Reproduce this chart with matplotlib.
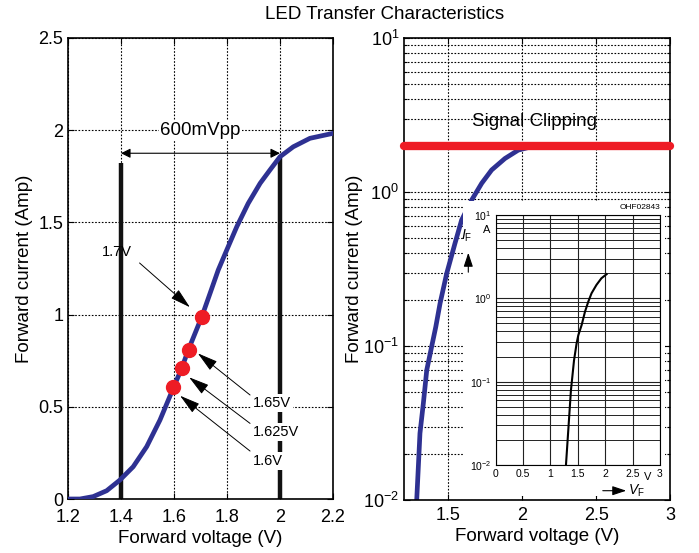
import matplotlib
matplotlib.use("Agg")
import matplotlib.pyplot as plt
from matplotlib.patches import Rectangle, FancyArrowPatch
from matplotlib.ticker import FuncFormatter, LogLocator, NullFormatter

plt.rcParams['font.family'] = ['Liberation Sans', 'DejaVu Sans']
plt.rcParams['mathtext.fontset'] = 'custom'
plt.rcParams['mathtext.rm'] = 'Liberation Sans'
plt.rcParams['mathtext.it'] = 'Liberation Sans:italic'

# left chart: linear I-V curve
lin_v = [1.195, 1.245, 1.295, 1.346, 1.396, 1.446, 1.497, 1.547, 1.597, 1.629, 1.654, 1.705,
         1.736, 1.767, 1.799, 1.837, 1.880, 1.925, 1.962, 2.0, 2.05, 2.113, 2.2]
lin_i = [0.0, 0.0, 0.013, 0.045, 0.103, 0.175, 0.284, 0.428, 0.600, 0.709, 0.808, 0.989,
         1.115, 1.242, 1.35, 1.477, 1.603, 1.712, 1.784, 1.856, 1.91, 1.956, 1.983]
dot_v = [1.597, 1.629, 1.657, 1.705]
dot_i = [0.606, 0.712, 0.808, 0.989]
dot_labels = ['1.6V', '1.625V', '1.65V', '1.7V']
swing_v = [1.4, 2.0]
swing_top = [1.82, 1.85]

# right chart: log I-V curve
log_v = [1.286, 1.297, 1.308, 1.331, 1.354, 1.387, 1.415, 1.444, 1.489, 1.545, 1.590, 1.658,
         1.726, 1.793, 1.883, 1.973, 2.064, 2.2]
log_i = [0.01, 0.0164, 0.0271, 0.0425, 0.0698, 0.099, 0.133, 0.189, 0.296, 0.464, 0.658, 0.887,
         1.14, 1.39, 1.65, 1.87, 1.97, 2.0]
clip_level = 2.0

# datasheet inset curve
ds_v = [1.283, 1.325, 1.374, 1.43, 1.478, 1.508, 1.57, 1.63, 1.69, 1.75, 1.84, 1.93, 2.025]
ds_i = [0.01, 0.026, 0.079, 0.18, 0.29, 0.36, 0.48, 0.69, 0.91, 1.15, 1.45, 1.74, 1.95]

blue = '#2e3192'
red = '#ee1c25'

fig = plt.figure(figsize=(6.99, 5.53), dpi=100)
fig.text(0.55, 0.973, 'LED Transfer Characteristics', ha='center', va='center', fontsize=13.5)

fmt = FuncFormatter(lambda v, p: '%g' % v)
grid_kw = dict(color='black', linestyle=(0, (1.5, 1.5)), linewidth=0.8)

# ---- left
ax1 = fig.add_axes([68/699, 54/553, 265/699, 461/553])
ax1.set_xlim(1.2, 2.2)
ax1.set_ylim(0, 2.5)
ax1.set_xticks([1.2, 1.4, 1.6, 1.8, 2.0, 2.2])
ax1.set_yticks([0, 0.5, 1, 1.5, 2, 2.5])
ax1.xaxis.set_major_formatter(fmt)
ax1.yaxis.set_major_formatter(fmt)
ax1.grid(True, **grid_kw)
ax1.set_axisbelow(True)
ax1.tick_params(direction='in', top=True, right=True, length=4, width=0.8, labelsize=13)
ax1.tick_params(axis='x', pad=7)
for s in ax1.spines.values():
    s.set_linewidth(1.2)

for v, t in zip(swing_v, swing_top):
    ax1.plot([v, v], [0, t], color='#111111', lw=3.2, solid_capstyle='butt', zorder=2)
ax1.plot(lin_v, lin_i, color=blue, lw=3.4, zorder=3, solid_joinstyle='round')
ax1.plot(dot_v, dot_i, 'o', color=red, ms=10, zorder=4)

ax1.annotate('', xy=(2.0, 1.875), xytext=(1.4, 1.875),
             arrowprops=dict(arrowstyle='<|-|>', color='black', lw=0.8, mutation_scale=14, shrinkA=0, shrinkB=0))
ax1.text(1.7, 2.0, '600mVpp', ha='center', va='center', fontsize=13.5,
         bbox=dict(fc='white', ec='none', pad=1))

arr = dict(arrowstyle='-|>,head_length=0.9,head_width=0.25', color='black', lw=0.7,
           mutation_scale=14, shrinkA=0, shrinkB=0)
ax1.annotate('', xy=(1.66, 1.04), xytext=(1.47, 1.28), arrowprops=arr)
ax1.text(1.385, 1.34, dot_labels[3], ha='center', va='center', fontsize=10.5)
label_y = [0.206, 0.363, 0.52]
tips = [(1.623, 0.56), (1.657, 0.66), (1.69, 0.79)]
tails = [(1.887, 0.26), (1.887, 0.41), (1.887, 0.564)]
for lab, ly, tip, tail in zip(dot_labels[:3], label_y, tips, tails):
    ax1.annotate('', xy=tip, xytext=tail, arrowprops=arr)
    ax1.text(1.898, ly, lab, ha='left', va='center', fontsize=10.5,
             bbox=dict(fc='white', ec='none', pad=1.5), zorder=5)

ax1.set_xlabel('Forward voltage (V)', fontsize=13.5, labelpad=3)
ax1.set_ylabel('Forward current (Amp)', fontsize=13.5, labelpad=4)

# ---- right
ax2 = fig.add_axes([404/699, 53/553, 266/699, 462/553])
ax2.set_yscale('log')
ax2.set_xlim(1.2, 3.0)
ax2.set_ylim(0.01, 10)
ax2.set_xticks([1.5, 2, 2.5, 3])
ax2.xaxis.set_major_formatter(fmt)
ax2.yaxis.set_major_locator(LogLocator(base=10))
ax2.yaxis.set_minor_locator(LogLocator(base=10, subs=range(2, 10)))
ax2.yaxis.set_minor_formatter(NullFormatter())
ax2.grid(True, which='major', **grid_kw)
ax2.grid(True, which='minor', axis='y', **grid_kw)
ax2.set_axisbelow(True)
ax2.tick_params(which='both', direction='in', top=True, right=True, width=0.8, labelsize=13)
ax2.tick_params(which='major', length=4)
ax2.tick_params(which='minor', length=2.5)
ax2.tick_params(axis='x', pad=5)
for s in ax2.spines.values():
    s.set_linewidth(1.2)

ax2.plot(log_v, log_i, color=blue, lw=3.4, zorder=2, solid_joinstyle='round')
ax2.plot([1.2, 3.0], [clip_level, clip_level], color=red, lw=6, solid_capstyle='round', zorder=4, clip_on=False)
ax2.text(2.086, 2.85, 'Signal Clipping', ha='center', va='center', fontsize=13.5)
ax2.add_patch(Rectangle((463/699, 57/553), 202/699, 295/553, transform=fig.transFigure,
                        fc='white', ec='none', zorder=3, clip_on=False))
ax2.set_xlabel('Forward voltage (V)', fontsize=13.5, labelpad=3)
ax2.set_ylabel('Forward current (Amp)', fontsize=13.5, labelpad=0)

# ---- datasheet inset
ax3 = fig.add_axes([495.7/699, 88/553, 164.3/699, 250/553])
ax3.set_yscale('log')
ax3.set_xlim(0, 3)
ax3.set_ylim(0.01, 10)
ax3.set_xticks([0, 0.5, 1, 1.5, 2, 2.5, 3])
ax3.xaxis.set_major_formatter(fmt)
ax3.yaxis.set_major_locator(LogLocator(base=10))
ax3.yaxis.set_minor_locator(LogLocator(base=10, subs=range(2, 10)))
ax3.yaxis.set_minor_formatter(NullFormatter())
ax3.grid(True, which='major', color='#222222', lw=0.8)
ax3.grid(True, which='minor', axis='y', color='#222222', lw=0.7)
ax3.tick_params(which='both', length=0, labelsize=7.5, pad=3)
for s in ax3.spines.values():
    s.set_linewidth(0.8)
ax3.plot(ds_v, ds_i, color='black', lw=1.5, solid_joinstyle='round')
ax3.text(2.78, -0.028, 'V', transform=ax3.get_xaxis_transform(), ha='center', va='top', fontsize=8)
ax3.text(1.0, 1.015, 'OHF02843', transform=ax3.transAxes, ha='right', va='bottom', fontsize=6)
fig.text(486.7/699, 1 - 230/553, 'A', ha='center', va='center', fontsize=8)
fig.text(467/699, 1 - 236/553, r'$I_{\mathrm{F}}$', ha='center', va='center', fontsize=10)
fig.add_artist(FancyArrowPatch((468.3/699, 1 - 275/553), (468.3/699, 1 - 250/553),
               transform=fig.transFigure, arrowstyle='-|>,head_length=0.6,head_width=0.2',
               mutation_scale=14, color='black', lw=0.8))
fig.add_artist(FancyArrowPatch((600/699, 1 - 490.7/553), (629/699, 1 - 490.7/553),
               transform=fig.transFigure, arrowstyle='-|>,head_length=0.6,head_width=0.2',
               mutation_scale=14, color='black', lw=0.8))
fig.text(636/699, 1 - 491/553, r'$V_{\mathrm{F}}$', ha='center', va='center', fontsize=10)

fig.savefig('out.png', dpi=100)
